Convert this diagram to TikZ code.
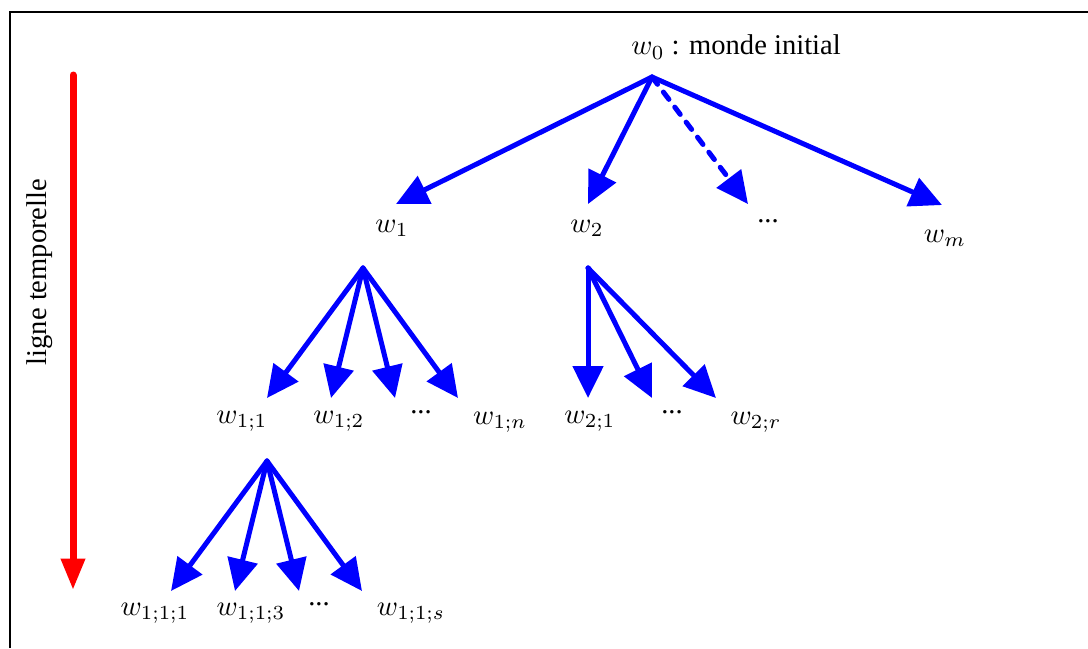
\documentclass[tikz,border=0pt]{standalone}
\usepackage[no-math]{fontspec}
\setmainfont{Liberation Serif}
\usetikzlibrary{arrows.meta}
\tikzset{
  lbl/.style={inner sep=0pt, font=\fontsize{10}{12}\selectfont},
  bluearrow/.style={draw=blue, line width=1.75pt, line cap=round, line join=round,
    -{Triangle[length=11.2pt,width=10.5pt]}},
  dasharrow/.style={bluearrow, dash pattern=on 3.2pt off 3.4pt},
  timearrow/.style={draw=red, line width=2.45pt, line cap=round,
    -{Triangle[length=11pt,width=8pt]}},
  frameline/.style={draw=black, line width=0.45pt}
}
\begin{document}
\begin{tikzpicture}[x=0.35pt, y=-0.35pt]
\useasboundingbox (0,0) rectangle (1088,648);
% frame
\coordinate (fa) at (10,648);
\coordinate (fb) at (10,12);
\coordinate (fc) at (1088,12);
\draw[frameline] (fa) -- (fb) -- (fc);
% time line
\coordinate (t0) at (73,75);
\coordinate (t1) at (73,590);
\draw[timearrow] (t0) -- (t1);
\node[lbl, rotate=90] (tl) at (40,272) {ligne temporelle};
% labels
\node[lbl] (w0) at (736,47) {$w_0$ : monde initial};
\node[lbl] (w1) at (392,228) {$w_1$};
\node[lbl] (w2) at (587,228) {$w_2$};
\node[lbl] (wd) at (768,221) {...};
\node[lbl] (wm) at (945,238) {$w_m$};
\node[lbl] (w11) at (242,421) {$w_{1{;}1}$};
\node[lbl] (w12) at (339,421) {$w_{1{;}2}$};
\node[lbl] (w1d) at (421,412) {...};
\node[lbl] (w1n) at (500,422) {$w_{1{;}n}$};
\node[lbl] (w21) at (590,421) {$w_{2{;}1}$};
\node[lbl] (w2d) at (672,412) {...};
\node[lbl] (w2r) at (756,422) {$w_{2{;}r}$};
\node[lbl] (w111) at (155,613) {$w_{1{;}1{;}1}$};
\node[lbl] (w113) at (251,613) {$w_{1{;}1{;}3}$};
\node[lbl] (w11d) at (319,604) {...};
\node[lbl] (w11s) at (411,613) {$w_{1{;}1{;}s}$};
% apex and tip points
\coordinate (r0) at (652,77);
\coordinate (a1) at (396,204);
\coordinate (a2) at (588,204);
\coordinate (ad) at (748,204);
\coordinate (am) at (942,205);
\coordinate (r1) at (363,268);
\coordinate (b1) at (267,398);
\coordinate (b2) at (331,398);
\coordinate (b3) at (395,398);
\coordinate (b4) at (458,398);
\coordinate (r2) at (588,268);
\coordinate (c1) at (588,398);
\coordinate (c2) at (652,398);
\coordinate (c3) at (716,398);
\coordinate (r3) at (267,461);
\coordinate (d1) at (171,591);
\coordinate (d2) at (235,591);
\coordinate (d3) at (299,591);
\coordinate (d4) at (362,591);
% arrows
\draw[bluearrow] (r0) -- (a1);
\draw[bluearrow] (r0) -- (a2);
\draw[dasharrow] (r0) -- (ad);
\draw[bluearrow] (r0) -- (am);
\foreach \t in {b1,b2,b3,b4} \draw[bluearrow] (r1) -- (\t);
\foreach \t in {c1,c2,c3} \draw[bluearrow] (r2) -- (\t);
\foreach \t in {d1,d2,d3,d4} \draw[bluearrow] (r3) -- (\t);
\end{tikzpicture}
\end{document}
